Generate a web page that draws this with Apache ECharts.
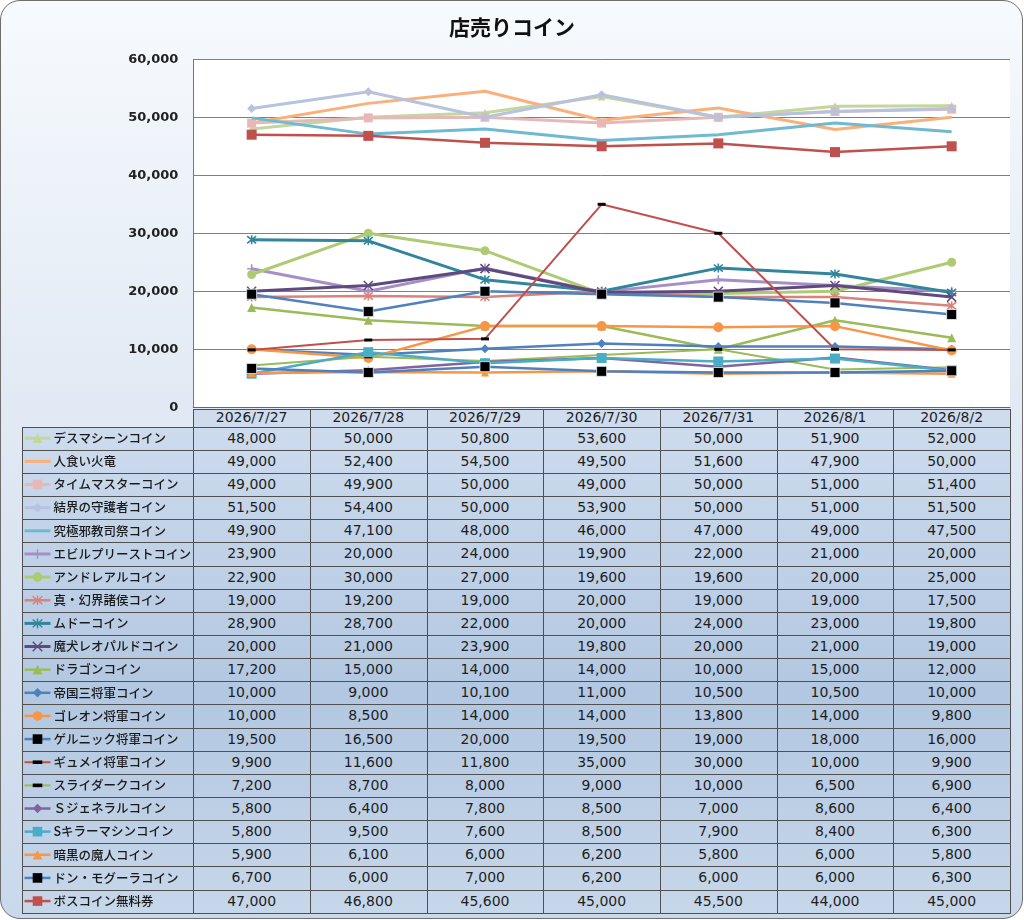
<!DOCTYPE html>
<html>
<head>
<meta charset="utf-8">
<script src="https://cdn.jsdelivr.net/npm/echarts@6/dist/echarts.min.js"></script>
<style>
html, body { margin: 0; padding: 0; background: #fff; }
#card {
    position: absolute; left: 0; top: 0; width: 1021px; height: 917px;
    border: 1.5px solid #6e6e6e; border-radius: 20px; overflow: hidden;
    background: linear-gradient(#f7fafd 0%, #e3ebf5 40%, #c9d8eb 100%);
}
#tblbg { position: absolute; background: linear-gradient(#cddbed 0%, #b2c7e1 55%, #c7d7ea 100%); }
#chart { position: absolute; left: 0; top: 0; width: 1024px; height: 920px; }
.cell { position: absolute; font: 14px "DejaVu Sans"; color: #1e1e1e; text-align: center; }
.hl { position: absolute; height: 1px; background: #505050; }
.vl { position: absolute; width: 1px; background: #505050; }
</style>
</head>
<body>
<div id="card"></div>
<div id="tbl"></div>
<div id="chart"></div>
<script>
// カテゴリ
const dates = ['2026/7/27', '2026/7/28', '2026/7/29', '2026/7/30', '2026/7/31', '2026/8/1', '2026/8/2'];
const yTicks = [0, 10000, 20000, 30000, 40000, 50000, 60000];

// 系列ごとの値
const deathMachine  = [48000, 50000, 50800, 53600, 50000, 51900, 52000];
const manEater      = [49000, 52400, 54500, 49500, 51600, 47900, 50000];
const timeMaster    = [49000, 49900, 50000, 49000, 50000, 51000, 51400];
const barrierGuard  = [51500, 54400, 50000, 53900, 50000, 51000, 51500];
const ultPriest     = [49900, 47100, 48000, 46000, 47000, 49000, 47500];
const evilPriest    = [23900, 20000, 24000, 19900, 22000, 21000, 20000];
const andreal       = [22900, 30000, 27000, 19600, 19600, 20000, 25000];
const shinGenkai    = [19000, 19200, 19000, 20000, 19000, 19000, 17500];
const mudo          = [28900, 28700, 22000, 20000, 24000, 23000, 19800];
const leopard       = [20000, 21000, 23900, 19800, 20000, 21000, 19000];
const dragon        = [17200, 15000, 14000, 14000, 10000, 15000, 12000];
const teikoku       = [10000, 9000, 10100, 11000, 10500, 10500, 10000];
const goreon        = [10000, 8500, 14000, 14000, 13800, 14000, 9800];
const gelnic        = [19500, 16500, 20000, 19500, 19000, 18000, 16000];
const gyumei        = [9900, 11600, 11800, 35000, 30000, 10000, 9900];
const slydark       = [7200, 8700, 8000, 9000, 10000, 6500, 6900];
const sGeneral      = [5800, 6400, 7800, 8500, 7000, 8600, 6400];
const sKiller       = [5800, 9500, 7600, 8500, 7900, 8400, 6300];
const darkMajin     = [5900, 6100, 6000, 6200, 5800, 6000, 5800];
const donMogura     = [6700, 6000, 7000, 6200, 6000, 6000, 6300];
const bossTicket    = [47000, 46800, 45600, 45000, 45500, 44000, 45000];

const names = [
    'デスマシーンコイン', '人食い火竜', 'タイムマスターコイン', '結界の守護者コイン', '究極邪教司祭コイン',
    'エビルプリーストコイン', 'アンドレアルコイン', '真・幻界諸侯コイン', 'ムドーコイン', '魔犬レオパルドコイン',
    'ドラゴンコイン', '帝国三将軍コイン', 'ゴレオン将軍コイン', 'ゲルニック将軍コイン', 'ギュメイ将軍コイン',
    'スライダークコイン', 'Ｓジェネラルコイン', 'Sキラーマシンコイン', '暗黒の魔人コイン', 'ドン・モグーラコイン',
    'ボスコイン無料券'
];
const values = [
    deathMachine, manEater, timeMaster, barrierGuard, ultPriest,
    evilPriest, andreal, shinGenkai, mudo, leopard,
    dragon, teikoku, goreon, gelnic, gyumei,
    slydark, sGeneral, sKiller, darkMajin, donMogura,
    bossTicket
];

// マーカー
const PLUS = 'path://M5,0L5,10M0,5L10,5';
const STAR = 'path://M5,0L5,10M1,1L9,9M9,1L1,9';
const CROSS = 'path://M1,1L9,9M9,1L1,9';
// 余白付きの短い横棒 (外枠 8x8 の中に 8x3)
const DASH = 'path://M0,0M0,2.5L8,2.5L8,5.5L0,5.5ZM8,8';
const FLAT = 'path://M0,0L26,0L26,3L0,3Z';   // 線だけの凡例用

const styles = [
    { color: '#c3d69b', symbol: 'triangle', size: 8, width: 3 },
    { color: '#fab07a', symbol: 'none', width: 3 },
    { color: '#e6b9b8', symbol: 'rect', size: 9, width: 3 },
    { color: '#b7c2df', symbol: 'diamond', size: 9, width: 3 },
    { color: '#6fbad2', symbol: 'none', width: 3 },
    { color: '#a58fc6', symbol: PLUS, size: 9, width: 3 },
    { color: '#aecb74', symbol: 'circle', size: 9, width: 3 },
    { color: '#d9837e', symbol: STAR, size: 9, width: 2.5 },
    { color: '#31859c', symbol: STAR, size: 9, width: 3 },
    { color: '#5f4a7d', symbol: CROSS, size: 9, width: 3 },
    { color: '#9bbb59', symbol: 'triangle', size: 9, width: 2.5 },
    { color: '#4f81bd', symbol: 'diamond', size: 9, width: 2.5 },
    { color: '#f79646', symbol: 'circle', size: 10, width: 2.5 },
    { color: '#4f81bd', mark: '#000', symbol: 'rect', size: 10, width: 2.5 },
    { color: '#c0504d', mark: '#000', symbol: DASH, size: 8, width: 2 },
    { color: '#9bbb59', mark: '#000', symbol: DASH, size: 8, width: 2 },
    { color: '#8064a2', symbol: 'diamond', size: 8, width: 2.5 },
    { color: '#4bacc6', symbol: 'rect', size: 10, width: 2.5 },
    { color: '#f79646', symbol: 'triangle', size: 8, width: 2.5 },
    { color: '#4f81bd', mark: '#000', symbol: 'rect', size: 10, width: 2.5 },
    { color: '#c0504d', symbol: 'rect', size: 10, width: 2.5 }
];

// レイアウト
const plotL = 193.3, plotR = 1010, plotT = 59.3, plotB = 407.3;
const tblL = 21.5, headT = 409.3, rowT = 426.7, rowH = 23.14;
const colW = (plotR - plotL) / dates.length;

const fmt = v => v.toLocaleString('en-US');

// 表
const tbl = document.getElementById('tbl');
const add = (cls, css, text) => {
    const d = document.createElement('div');
    d.className = cls;
    Object.assign(d.style, css);
    if (text !== undefined) d.textContent = text;
    tbl.appendChild(d);
};
const tblB = rowT + rowH * names.length;
add('', { position: 'absolute', left: plotL + 'px', top: headT + 'px', width: (plotR - plotL) + 'px', height: (rowT - headT) + 'px', background: '#cfdcee' });
const bg = document.createElement('div');
bg.id = 'tblbg';
Object.assign(bg.style, { left: tblL + 'px', top: rowT + 'px', width: (plotR - tblL) + 'px', height: (tblB - rowT) + 'px' });
tbl.appendChild(bg);

add('hl', { left: plotL + 'px', top: headT + 'px', width: (plotR - plotL) + 'px' });
for (let i = 0; i <= names.length; i++) {
    add('hl', { left: tblL + 'px', top: (rowT + i * rowH) + 'px', width: (plotR - tblL + 1) + 'px' });
}
add('vl', { left: tblL + 'px', top: rowT + 'px', height: (tblB - rowT) + 'px' });
for (let j = 0; j <= dates.length; j++) {
    add('vl', { left: (plotL + j * colW) + 'px', top: headT + 'px', height: (tblB - headT + 1) + 'px' });
}
dates.forEach((d, j) => {
    add('cell', { left: (plotL + j * colW) + 'px', top: headT + 'px', width: colW + 'px', lineHeight: (rowT - headT) + 'px' }, d);
});
values.forEach((arr, i) => {
    arr.forEach((v, j) => {
        add('cell', { left: (plotL + j * colW) + 'px', top: (rowT + i * rowH) + 'px', width: colW + 'px', lineHeight: rowH + 'px' }, fmt(v));
    });
});

// グラフ
const chart = echarts.init(document.getElementById('chart'));
const series = names.map((name, i) => {
    const s = styles[i];
    const isStroke = s.symbol === PLUS || s.symbol === STAR || s.symbol === CROSS;
    let itemStyle;
    if (isStroke) {
        itemStyle = { color: s.color, borderColor: s.color, borderWidth: 1.6 };
    } else if (s.mark && s.symbol === 'rect') {
        itemStyle = { color: s.mark, borderColor: '#e8eef6', borderWidth: 0.8 };
    } else {
        itemStyle = { color: s.mark || s.color, borderWidth: 0 };
    }
    return {
        name: name,
        type: 'line',
        data: values[i],
        symbol: s.symbol,
        symbolSize: s.size,
        showSymbol: s.symbol !== 'none',
        lineStyle: { color: s.color, width: s.width },
        itemStyle: itemStyle,
        emphasis: { disabled: true },
        z: 2 + i
    };
});

const legendData = names.map((name, i) => {
    const s = styles[i];
    if (s.symbol === 'none') return { name: name, icon: FLAT };
    const isStroke = s.symbol === PLUS || s.symbol === STAR || s.symbol === CROSS;
    return {
        name: name,
        itemStyle: isStroke
            ? { color: s.color, borderColor: s.color, borderWidth: 1.4 }
            : { color: s.mark || s.color, borderWidth: 0 }
    };
});

chart.setOption({
    animation: false,
    backgroundColor: 'transparent',
    title: {
        text: '店売りコイン',
        left: 'center',
        top: 12,
        textStyle: { fontFamily: 'Noto Sans CJK JP', fontWeight: 'bold', fontSize: 21, color: '#111' }
    },
    legend: {
        orient: 'vertical',
        left: 23,
        top: rowT + rowH / 2 - 7,
        padding: 0,
        itemWidth: 26,
        itemHeight: 12,
        itemGap: rowH - 14,
        selectedMode: false,
        data: legendData,
        lineStyle: { width: 'inherit' },
        textStyle: { fontFamily: 'Noto Sans CJK JP', fontSize: 12.5, fontWeight: 500, color: '#1a1a1a', lineHeight: 14, padding: [0, 0, 0, -2] }
    },
    grid: {
        left: plotL, top: plotT, width: plotR - plotL, height: plotB - plotT,
        show: true, backgroundColor: '#ffffff', borderWidth: 0
    },
    xAxis: {
        type: 'category',
        data: dates,
        boundaryGap: true,
        axisLine: { lineStyle: { color: '#666', width: 1 } },
        axisTick: { show: false },
        axisLabel: { show: false }
    },
    yAxis: {
        type: 'value',
        min: yTicks[0],
        max: yTicks[yTicks.length - 1],
        interval: yTicks[1] - yTicks[0],
        axisLine: { show: true, lineStyle: { color: '#777', width: 1 } },
        axisTick: { show: false },
        splitLine: { lineStyle: { color: '#7f7f7f', width: 1 } },
        axisLabel: {
            margin: 15,
            formatter: v => fmt(v),
            fontFamily: 'DejaVu Sans',
            fontWeight: 'bold',
            fontSize: 13,
            color: '#222'
        }
    },
    series: series
});
</script>
</body>
</html>
